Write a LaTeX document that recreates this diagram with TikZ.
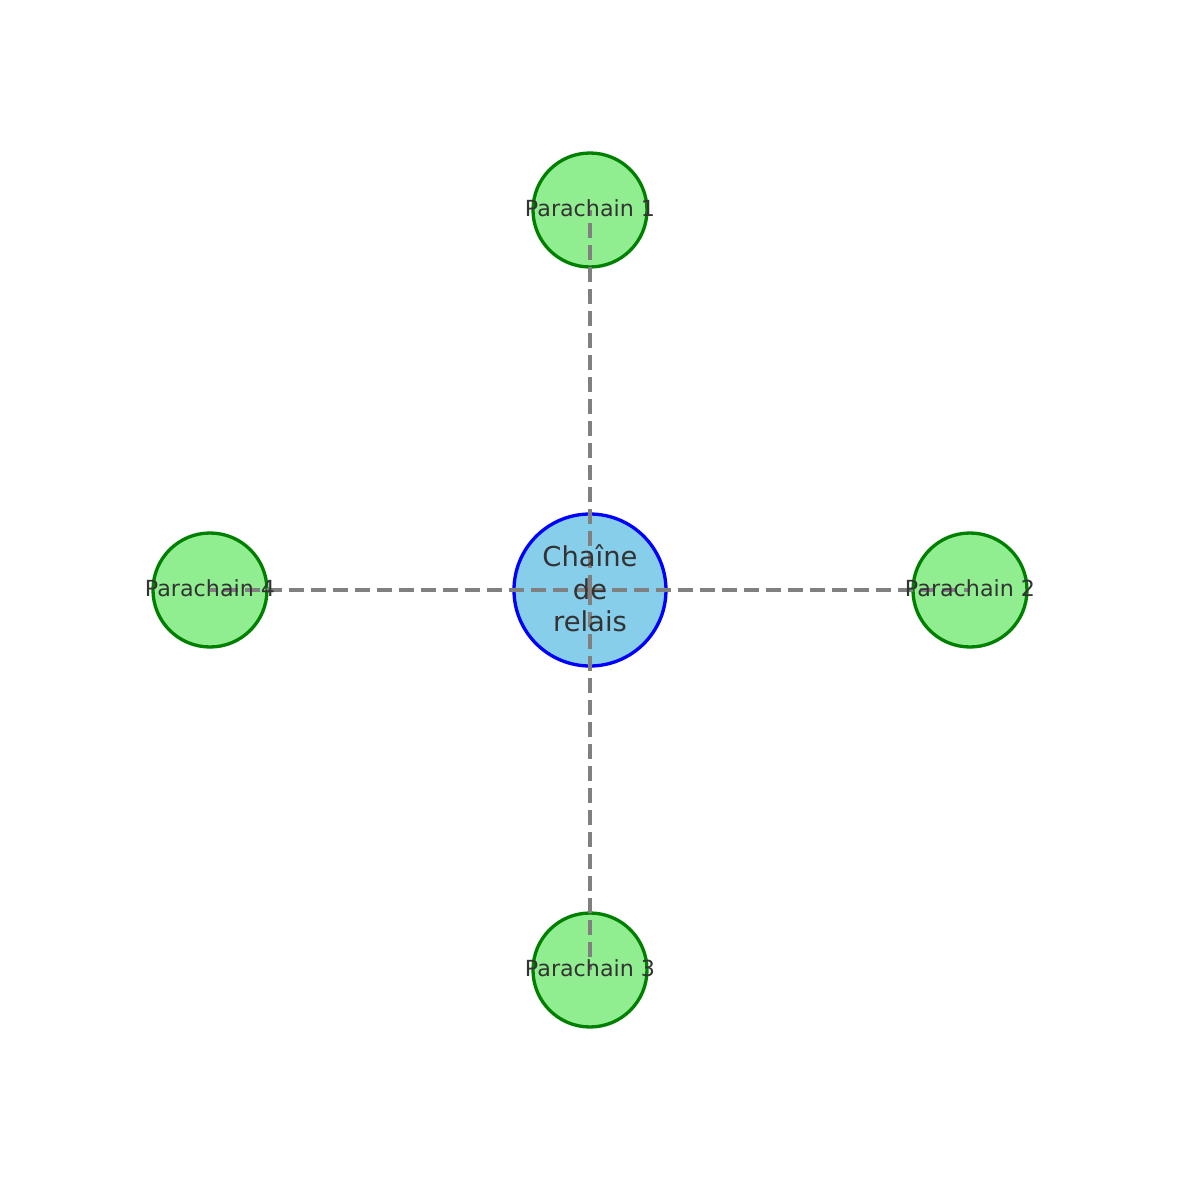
\documentclass[tikz,border=0pt]{standalone}
\usepackage{fontspec}
\setmainfont{DejaVu Sans}
\usepackage{xcolor}
\usetikzlibrary{positioning}
\definecolor{RelayFill}{HTML}{87CEEB}
\definecolor{RelayLine}{HTML}{0000FF}
\definecolor{ParaFill}{HTML}{90EE90}
\definecolor{ParaLine}{HTML}{008000}
\definecolor{LinkGray}{HTML}{808080}
\definecolor{TextGray}{HTML}{333333}
\tikzset{
    relaynode/.style={circle, draw=RelayLine, fill=RelayFill, line width=1.66pt, minimum size=76pt, inner sep=0pt},
    paranode/.style={circle, draw=ParaLine, fill=ParaFill, line width=1.66pt, minimum size=57pt, inner sep=0pt},
    link/.style={draw=LinkGray, line width=2.08pt, dash pattern=on 7.7pt off 3.3pt},
    labeltext/.style={text=TextGray, inner sep=0pt, align=center, yshift=0.8pt}
}
\begin{document}
\begin{tikzpicture}[
        node distance=190pt, on grid,
        % texte des noeuds
        relaylabel/.style={labeltext, font=\fontsize{13.7}{16.1}\selectfont},
        paralabel/.style={labeltext, font=\fontsize{11.1}{13}\selectfont}
    ]
    \useasboundingbox (-295pt,-295pt) rectangle (294.5pt,295pt);
    % Cercles : chaine de relais au centre, parachains autour
    \node[relaynode] (relay) at (0,0) {};
    \node[paranode, above=of relay] (para1) {};
    \node[paranode, right=of relay] (para2) {};
    \node[paranode, below=of relay] (para3) {};
    \node[paranode, left=of relay] (para4) {};
    % Liaisons en pointilles, du centre vers chaque parachain
    \draw[link] (relay.center) -- (para1.center);
    \draw[link] (relay.center) -- (para2.center);
    \draw[link] (relay.center) -- (para3.center);
    \draw[link] (relay.center) -- (para4.center);
    % Textes par-dessus les liaisons
    \node[relaylabel] (relaytext) at (relay) {Chaîne\\de\\relais};
    \node[paralabel] (para1text) at (para1) {Parachain 1};
    \node[paralabel] (para2text) at (para2) {Parachain 2};
    \node[paralabel] (para3text) at (para3) {Parachain 3};
    \node[paralabel] (para4text) at (para4) {Parachain 4};
\end{tikzpicture}
\end{document}
